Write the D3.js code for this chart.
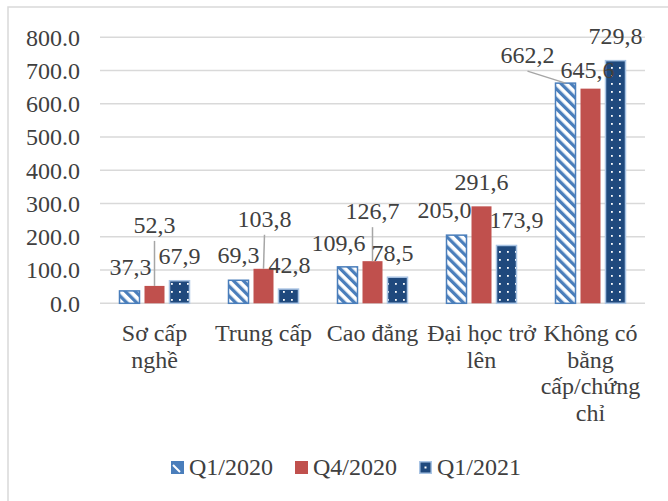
<!DOCTYPE html>
<head>
<meta charset="utf-8">
<script src="https://d3js.org/d3.v7.min.js"></script>
</head>
<style>
body { margin: 0; background: #fff; }
text { font-family: "Liberation Serif", "Times New Roman", serif; font-size: 24px; fill: #404040; }
.grid line { stroke: #d9d9d9; stroke-width: 1.5px; }
</style>
<body>
<script>
var categories = ["Sơ cấp\nnghề", "Trung cấp", "Cao đẳng", "Đại học trở\nlên", "Không có\nbằng\ncấp/chứng\nchỉ"];
var seriesNames = ["Q1/2020", "Q4/2020", "Q1/2021"];
var q1_2020 = [37.3, 69.3, 109.6, 205.0, 662.2];
var q4_2020 = [52.3, 103.8, 126.7, 291.6, 645.6];
var q1_2021 = [67.9, 42.8, 78.5, 173.9, 729.8];
var yTicks = [0, 100, 200, 300, 400, 500, 600, 700, 800];

// hand-moved data labels: [dx, dy] from the bar top centre, one row per series
var labelNudge = [
  [[1, -16], [0, -17], [-9, -16], [-12, -17], [-38, -20]],
  [[0, -53], [1, -42], [0, -42], [0, -16], [-3, -11]],
  [[0, -17], [1, -16], [-5, -16], [10, -17], [0, -17]]
];

var W = 668, H = 501;
var plotL = 100, plotR = 645, plotT = 37.3, plotB = 303.3;
var series = [q1_2020, q4_2020, q1_2021];
var fills = ["url(#stripes)", "#c0504d", "url(#dots)"];
var strokes = ["#4a7ebb", "none", "#a9c4e4"];

var svg = d3.select("body").append("svg")
    .attr("width", W)
    .attr("height", H);

var defs = svg.append("defs");
var stripe = defs.append("pattern")
    .attr("id", "stripes")
    .attr("patternUnits", "userSpaceOnUse")
    .attr("width", 7).attr("height", 7)
    .attr("patternTransform", "rotate(-45)");
stripe.append("rect").attr("width", 7).attr("height", 7).attr("fill", "#fff");
stripe.append("rect").attr("width", 3.3).attr("height", 7).attr("fill", "#4a7ebb");

var dots = defs.append("pattern")
    .attr("id", "dots")
    .attr("patternUnits", "userSpaceOnUse")
    .attr("width", 8).attr("height", 8);
dots.append("rect").attr("width", 8).attr("height", 8).attr("fill", "#1f497d");
dots.append("rect").attr("x", 3).attr("y", 3).attr("width", 1.8).attr("height", 1.8).attr("fill", "#fff");

// chart border
svg.append("rect")
    .attr("x", 8).attr("y", 7)
    .attr("width", 700).attr("height", 560)
    .attr("fill", "none")
    .attr("stroke", "#d9d9d9")
    .attr("stroke-width", 1.5);

var x0 = d3.scaleBand().domain(d3.range(categories.length)).range([plotL, plotR]);
var x1 = d3.scaleBand().domain(d3.range(series.length))
    .range([0, x0.bandwidth()])
    .paddingInner(0.2)
    .paddingOuter(0.78);
var y = d3.scaleLinear().domain([0, 800]).range([plotB, plotT]);

// gridlines
svg.append("g")
    .attr("class", "grid")
    .selectAll("line")
    .data(yTicks)
  .enter().append("line")
    .attr("x1", plotL).attr("x2", plotR)
    .attr("y1", function(d) { return y(d); })
    .attr("y2", function(d) { return y(d); });

// y tick labels
svg.append("g")
    .selectAll("text")
    .data(yTicks)
  .enter().append("text")
    .attr("x", 80)
    .attr("y", function(d) { return y(d); })
    .attr("dy", "0.35em")
    .attr("text-anchor", "end")
    .text(d3.format(".1f"));

var fmt = function(v) { return d3.format(".1f")(v).replace(".", ","); };

series.forEach(function(vals, s) {
  var g = svg.append("g");
  g.selectAll("rect")
      .data(vals)
    .enter().append("rect")
      .attr("x", function(d, i) { return x0(i) + x1(s); })
      .attr("y", function(d) { return y(d); })
      .attr("width", x1.bandwidth())
      .attr("height", function(d) { return y(0) - y(d); })
      .attr("fill", fills[s])
      .attr("stroke", strokes[s])
      .attr("stroke-width", 1.5);
});

// data labels and leader lines
series.forEach(function(vals, s) {
  vals.forEach(function(v, i) {
    var cx = x0(i) + x1(s) + x1.bandwidth() / 2;
    var n = labelNudge[s][i];
    var lx = cx + n[0], ly = y(v) + n[1];
    if (n[1] < -30 || Math.abs(n[0]) > 30) {
      svg.append("line")
          .attr("x1", lx).attr("y1", ly + 8)
          .attr("x2", cx).attr("y2", y(v))
          .attr("stroke", "#a6a6a6")
          .attr("stroke-width", 1.5);
    }
    svg.append("text")
        .attr("x", lx).attr("y", ly)
        .attr("text-anchor", "middle")
        .text(fmt(v));
  });
});

// category labels
var cat = svg.append("g").selectAll("text")
    .data(categories)
  .enter().append("text")
    .attr("text-anchor", "middle")
    .attr("y", 341);
cat.each(function(d, i) {
  var t = d3.select(this);
  d.split("\n").forEach(function(line, k) {
    t.append("tspan")
        .attr("x", x0(i) + x0.bandwidth() / 2)
        .attr("dy", k === 0 ? 0 : 26.7)
        .text(line);
  });
});

// legend
var legend = svg.append("g");
var legX = 171;
seriesNames.forEach(function(name, s) {
  var item = legend.append("g").attr("transform", "translate(" + legX + ",0)");
  if (s === 0) {
    item.append("rect").attr("x", 0.75).attr("y", 461.75).attr("width", 11.5).attr("height", 11.5)
        .attr("fill", "#4a7ebb").attr("stroke", "#4a7ebb").attr("stroke-width", 1.5);
    item.append("path").attr("d", "M2,465 L9,472").attr("stroke", "#fff").attr("stroke-width", 2);
  } else if (s === 1) {
    item.append("rect").attr("x", 0).attr("y", 461).attr("width", 13).attr("height", 13)
        .attr("fill", "#c0504d");
  } else {
    item.append("rect").attr("x", 0.75).attr("y", 461.75).attr("width", 11.5).attr("height", 11.5)
        .attr("fill", "#1f497d").attr("stroke", "#a9c4e4").attr("stroke-width", 1.5);
    item.append("rect").attr("x", 5.5).attr("y", 466.5).attr("width", 2).attr("height", 2).attr("fill", "#fff");
  }
  var t = item.append("text").attr("x", 18).attr("y", 475).text(name);
  legX += 18 + t.node().getComputedTextLength() + 22;
});
</script>
</body>
